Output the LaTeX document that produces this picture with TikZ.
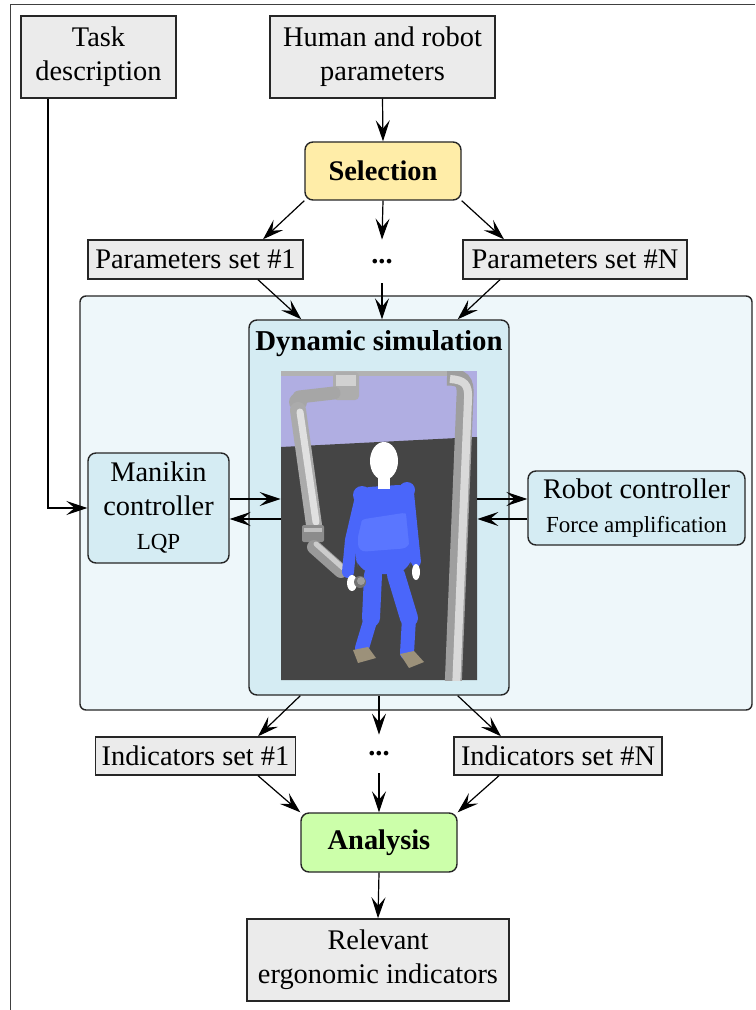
\documentclass[tikz,border=0pt]{standalone}
\usepackage{fontspec}
\setmainfont{Liberation Serif}
\usetikzlibrary{arrows.meta,calc}
\definecolor{boxgray}{HTML}{EBEBEB}
\definecolor{selyellow}{HTML}{FFEDA8}
\definecolor{anagreen}{HTML}{CCFFAA}
\definecolor{simouter}{HTML}{EEF7FA}
\definecolor{siminner}{HTML}{D5ECF3}
\definecolor{lavender}{HTML}{B0AEE2}
\definecolor{floorgray}{HTML}{454545}
\definecolor{manblue}{HTML}{4A66FA}
\definecolor{manblue2}{HTML}{5A76FF}
\definecolor{shoe}{HTML}{9C917A}
\begin{document}
\begin{tikzpicture}[x=0.5pt,y=-0.5pt,
 box/.style={draw=black!85, line width=0.7pt, fill=boxgray, inner sep=0pt, align=center, font=\fontsize{14.2}{17}\selectfont},
 rbox/.style={box, rounded corners=4pt},
 txt/.style={inner sep=0pt, align=center, font=\fontsize{14.2}{17}\selectfont},
 arr/.style={-{Stealth[length=10.5pt,width=7pt,inset=4.2pt]}, line width=0.6pt, draw=black},
 link/.style={line cap=round}]
\useasboundingbox (0,0) rectangle (755,1010);
\fill[white] (0,0) rectangle (755,1010);
\draw[black!75, line width=0.5pt] (10,1010) -- (10,5) -- (755,5);

% top
\node[box, minimum width=77.5pt, minimum height=41pt] (task) at (98.5,57) {Task\\description};
\node[box, minimum width=112.5pt, minimum height=41pt] (human) at (382.5,57) {Human and robot\\parameters};
\node[rbox, fill=selyellow, minimum width=78pt, minimum height=29pt, font=\fontsize{14.2}{17}\selectfont\bfseries] (sel) at (383,171) {Selection};
\node[box, minimum width=107.5pt, minimum height=19.5pt] (p1) at (195.5,259.5) {Parameters set \#1};
\node[txt, minimum height=21.5pt, font=\fontsize{14.2}{17}\selectfont\bfseries] (dots1) at (382,261.5) {...};
\node[box, minimum width=112pt, minimum height=19.5pt] (pN) at (575,259.5) {Parameters set \#N};

% simulation block
\node[rbox, fill=simouter, rounded corners=3pt, minimum width=336pt, minimum height=207pt] (outer) at (416,503) {};
\node[rbox, fill=siminner, minimum width=130pt, minimum height=187.5pt] (dyn) at (379,507.5) {};
\node[txt, font=\fontsize{14.4}{17}\selectfont\bfseries] (dyntitle) at (379,344) {Dynamic simulation};
\node[inner sep=0pt, minimum width=98pt, minimum height=154.5pt] (img) at (379,525.5) {};

\begin{scope}
\clip (281,371) rectangle (477,680);
\fill[lavender] (281,371) rectangle (477,680);
\fill[floorgray] (281,447) -- (477,437) -- (477,680) -- (281,680) -- cycle;
% frame
\fill[black!30] (281,371) rectangle (455,376);
\draw[line width=8.5pt, color=black!38] (447,377) .. controls (462,377) and (466,381) .. (465,396) -- (453,690);
\draw[line width=4pt, color=black!15] (450,379) .. controls (464,380) and (469,384) .. (468,399) -- (456,690);
% robot arm
\fill[black!32, rounded corners=2pt] (333,372) rectangle (359,400);
\fill[black!18] (336,375) rectangle (356,386);
\draw[link, line width=6.5pt, black!35] (334,393) -- (299,397);
\fill[black!35] (298,402) circle[radius=9];
\draw[link, line width=8pt, black!33] (298,410) -- (314,525);
\draw[link, line width=3.5pt, black!12] (300,412) -- (316,522);
\fill[black!45, rounded corners=1pt] (302,525) rectangle (324,542);
\fill[black!25] (304,528) rectangle (322,532);
\draw[link, line width=7pt, black!40] (314,547) -- (341,571);
\draw[link, line width=2.5pt, black!20] (316,544) -- (343,568);
% manikin legs
\draw[link, line width=9pt, manblue] (373,575) -- (371,618);
\draw[link, line width=9pt, manblue] (396,575) -- (409,618);
\draw[link, line width=7pt, manblue] (371,618) -- (362,648);
\draw[link, line width=7pt, manblue] (409,618) -- (407,653);
\fill[shoe] (353,650) -- (368,647) -- (376,658) -- (358,663) -- cycle;
\fill[shoe] (400,654) -- (414,651) -- (424,662) -- (409,668) -- cycle;
% torso
\fill[manblue, rounded corners=8pt] (354,488) -- (413,484) -- (413,552) -- (408,574) -- (360,574) -- (354,552) -- cycle;
\fill[manblue2, rounded corners=4pt] (358,520) -- (410,512) -- (410,548) -- (358,552) -- cycle;
\fill[manblue] (362,495) circle[radius=9];
\fill[manblue] (407,490) circle[radius=8];
% arms
\draw[link, line width=6pt, manblue] (361,497) -- (351,540) -- (348,572);
\draw[link, line width=5pt, manblue] (409,493) -- (413,533) -- (416,562);
\fill[white] (352,583) ellipse[x radius=5, y radius=8];
\fill[white] (416,572) ellipse[x radius=4, y radius=8];
\fill[black!55] (360,582) circle[radius=6];
\fill[black!38] (361,581) circle[radius=4];
% head
\fill[white] (378,476) rectangle (390,489);
\fill[white] (384,461) ellipse[x radius=14, y radius=19];
\end{scope}

\node[rbox, fill=siminner, minimum width=70.5pt, minimum height=55pt] (manikin) at (158.5,508) {Manikin\\controller\\{\fontsize{11.5}{14}\selectfont LQP}};
\node[rbox, fill=siminner, minimum width=108.5pt, minimum height=37pt] (robot) at (636.5,508) {Robot controller\\{\fontsize{11.5}{14}\selectfont Force amplification}};

% bottom
\node[box, minimum width=100pt, minimum height=19pt] (i1) at (195.5,756) {Indicators set \#1};
\node[txt, minimum height=19pt, font=\fontsize{14.2}{17}\selectfont\bfseries] (dots2) at (379,754) {...};
\node[box, minimum width=104pt, minimum height=19pt] (iN) at (558,756) {Indicators set \#N};
\node[rbox, fill=anagreen, minimum width=78pt, minimum height=29.5pt, font=\fontsize{14.2}{17}\selectfont\bfseries] (ana) at (379,842.5) {Analysis};
\node[box, minimum width=131pt, minimum height=41pt] (rel) at (378,960) {Relevant\\ergonomic indicators};

% arrows
\draw[arr] (human.south) -- (sel.north);
\draw[arr] (sel.south west) -- ([xshift=33.75pt]p1.north);
\draw[arr] (sel.south) -- (dots1.north);
\draw[arr] (sel.south east) -- ([xshift=-35.5pt]pN.north);
\draw[arr] ([xshift=31.25pt]p1.south) -- ([xshift=26.5pt]dyn.north west);
\draw[arr] (dots1.south) -- (dots1.south |- dyn.north);
\draw[arr] ([xshift=-37.5pt]pN.south) -- ([xshift=-26pt]dyn.north east);
\draw[arr] ([xshift=-25.25pt]task.south) |- (manikin.west);
\draw[arr] ([yshift=4.5pt]manikin.east) -- ([yshift=4.5pt]manikin.east -| img.west);
\draw[arr] ([yshift=-5.5pt]manikin.east -| img.west) -- ([yshift=-5.5pt]manikin.east);
\draw[arr] ([yshift=4.5pt]robot.west -| img.east) -- ([yshift=4.5pt]robot.west);
\draw[arr] ([yshift=-5.5pt]robot.west) -- ([yshift=-5.5pt]robot.west -| img.east);
\draw[arr] ([xshift=26pt]dyn.south west) -- ([xshift=31.25pt]i1.north);
\draw[arr] (dyn.south) -- (dots2.north);
\draw[arr] ([xshift=-26pt]dyn.south east) -- ([xshift=-28.5pt]iN.north);
\draw[arr] ([xshift=31.25pt]i1.south) -- (ana.north west);
\draw[arr] (dots2.south) -- (ana.north);
\draw[arr] ([xshift=-29.5pt]iN.south) -- (ana.north east);
\draw[arr] (ana.south) -- (rel.north);
\end{tikzpicture}
\end{document}
